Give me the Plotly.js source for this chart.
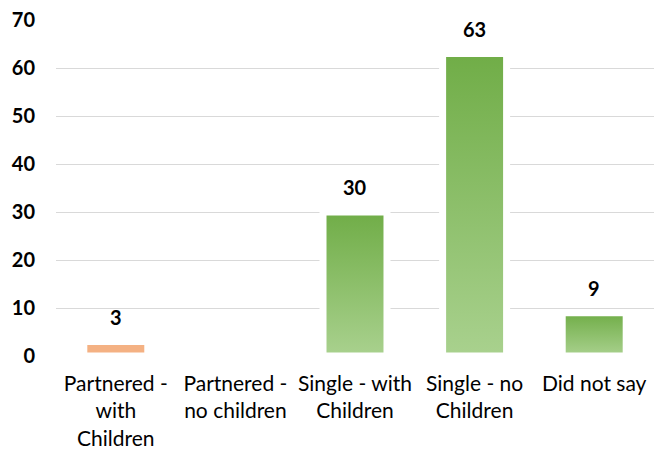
<!DOCTYPE html>
<html>
<head>
<meta charset="utf-8">
<script src="https://cdn.plot.ly/plotly-3.0.1.min.js"></script>
<style>
  html, body { margin: 0; padding: 0; background: #fff; }
  #chart { width: 654px; height: 455px; }
</style>
</head>
<body>
<div id="chart"></div>
<script>
// Household situation counts
const categories = [
  'Partnered - with Children',
  'Partnered - no children',
  'Single - with Children',
  'Single - no Children',
  'Did not say'
];
const tickLabels = [
  'Partnered -<br>with<br>Children',
  'Partnered -<br>no children',
  'Single - with<br>Children',
  'Single - no<br>Children',
  'Did not say'
];
const counts = [3, 0, 30, 63, 9];
const barColors = ['#F4B183', '#70AD47', '#70AD47', '#70AD47', '#70AD47'];

const FONT = 'Lato, "Open Sans", sans-serif';

const trace = {
  type: 'bar',
  x: categories,
  y: counts,
  marker: {
    color: barColors,
    line: { color: '#ffffff', width: 7 }
  },
  hoverinfo: 'none'
};

// value labels above each non-empty bar
const annotations = categories
  .map((c, i) => ({ c, v: counts[i] }))
  .filter(d => d.v > 0)
  .map(d => ({
    x: d.c,
    y: d.v,
    text: String(d.v),
    showarrow: false,
    yanchor: 'middle',
    yshift: 25,
    font: { family: FONT, size: 20, color: '#000', weight: 'bold' }
  }));

const layout = {
  width: 654,
  height: 455,
  margin: { l: 56, r: 0, t: 20, b: 99 },
  paper_bgcolor: '#ffffff',
  plot_bgcolor: '#ffffff',
  showlegend: false,
  bargap: 0.465,
  font: { family: FONT, color: '#000' },
  xaxis: {
    type: 'category',
    tickvals: categories,
    ticktext: tickLabels,
    tickfont: { family: FONT, size: 21, color: '#000' },
    showgrid: false,
    showline: false,
    zeroline: false,
    ticks: '',
    ticklabelstandoff: 13,
    fixedrange: true
  },
  yaxis: {
    range: [0, 70],
    dtick: 10,
    tick0: 0,
    showgrid: true,
    gridcolor: '#D9D9D9',
    gridwidth: 1,
    zeroline: false,
    showline: false,
    ticks: '',
    ticklabelstandoff: 20,
    tickfont: { family: FONT, size: 20, color: '#000', weight: 'bold' },
    fixedrange: true
  },
  annotations: annotations
};

const gd = document.getElementById('chart');
Plotly.newPlot(gd, [trace], layout, { displayModeBar: false, staticPlot: true }).then(() => {
  // vertical fade on the green bars: darker at the top, lighter at the base
  const svg = gd.querySelector('svg.main-svg');
  const ns = 'http://www.w3.org/2000/svg';
  let defs = svg.querySelector('defs');
  if (!defs) { defs = document.createElementNS(ns, 'defs'); svg.insertBefore(defs, svg.firstChild); }
  const grad = document.createElementNS(ns, 'linearGradient');
  grad.setAttribute('id', 'greenFade');
  grad.setAttribute('x1', '0'); grad.setAttribute('y1', '0');
  grad.setAttribute('x2', '0'); grad.setAttribute('y2', '1');
  [['0', '#70AD47'], ['1', '#A9D18E']].forEach(([off, col]) => {
    const s = document.createElementNS(ns, 'stop');
    s.setAttribute('offset', off);
    s.setAttribute('stop-color', col);
    grad.appendChild(s);
  });
  defs.appendChild(grad);
  const paths = gd.querySelectorAll('.barlayer .trace .point path');
  paths.forEach((p, i) => {
    if (barColors[i] === '#70AD47') p.style.fill = 'url(#greenFade)';
  });
});
</script>
</body>
</html>
